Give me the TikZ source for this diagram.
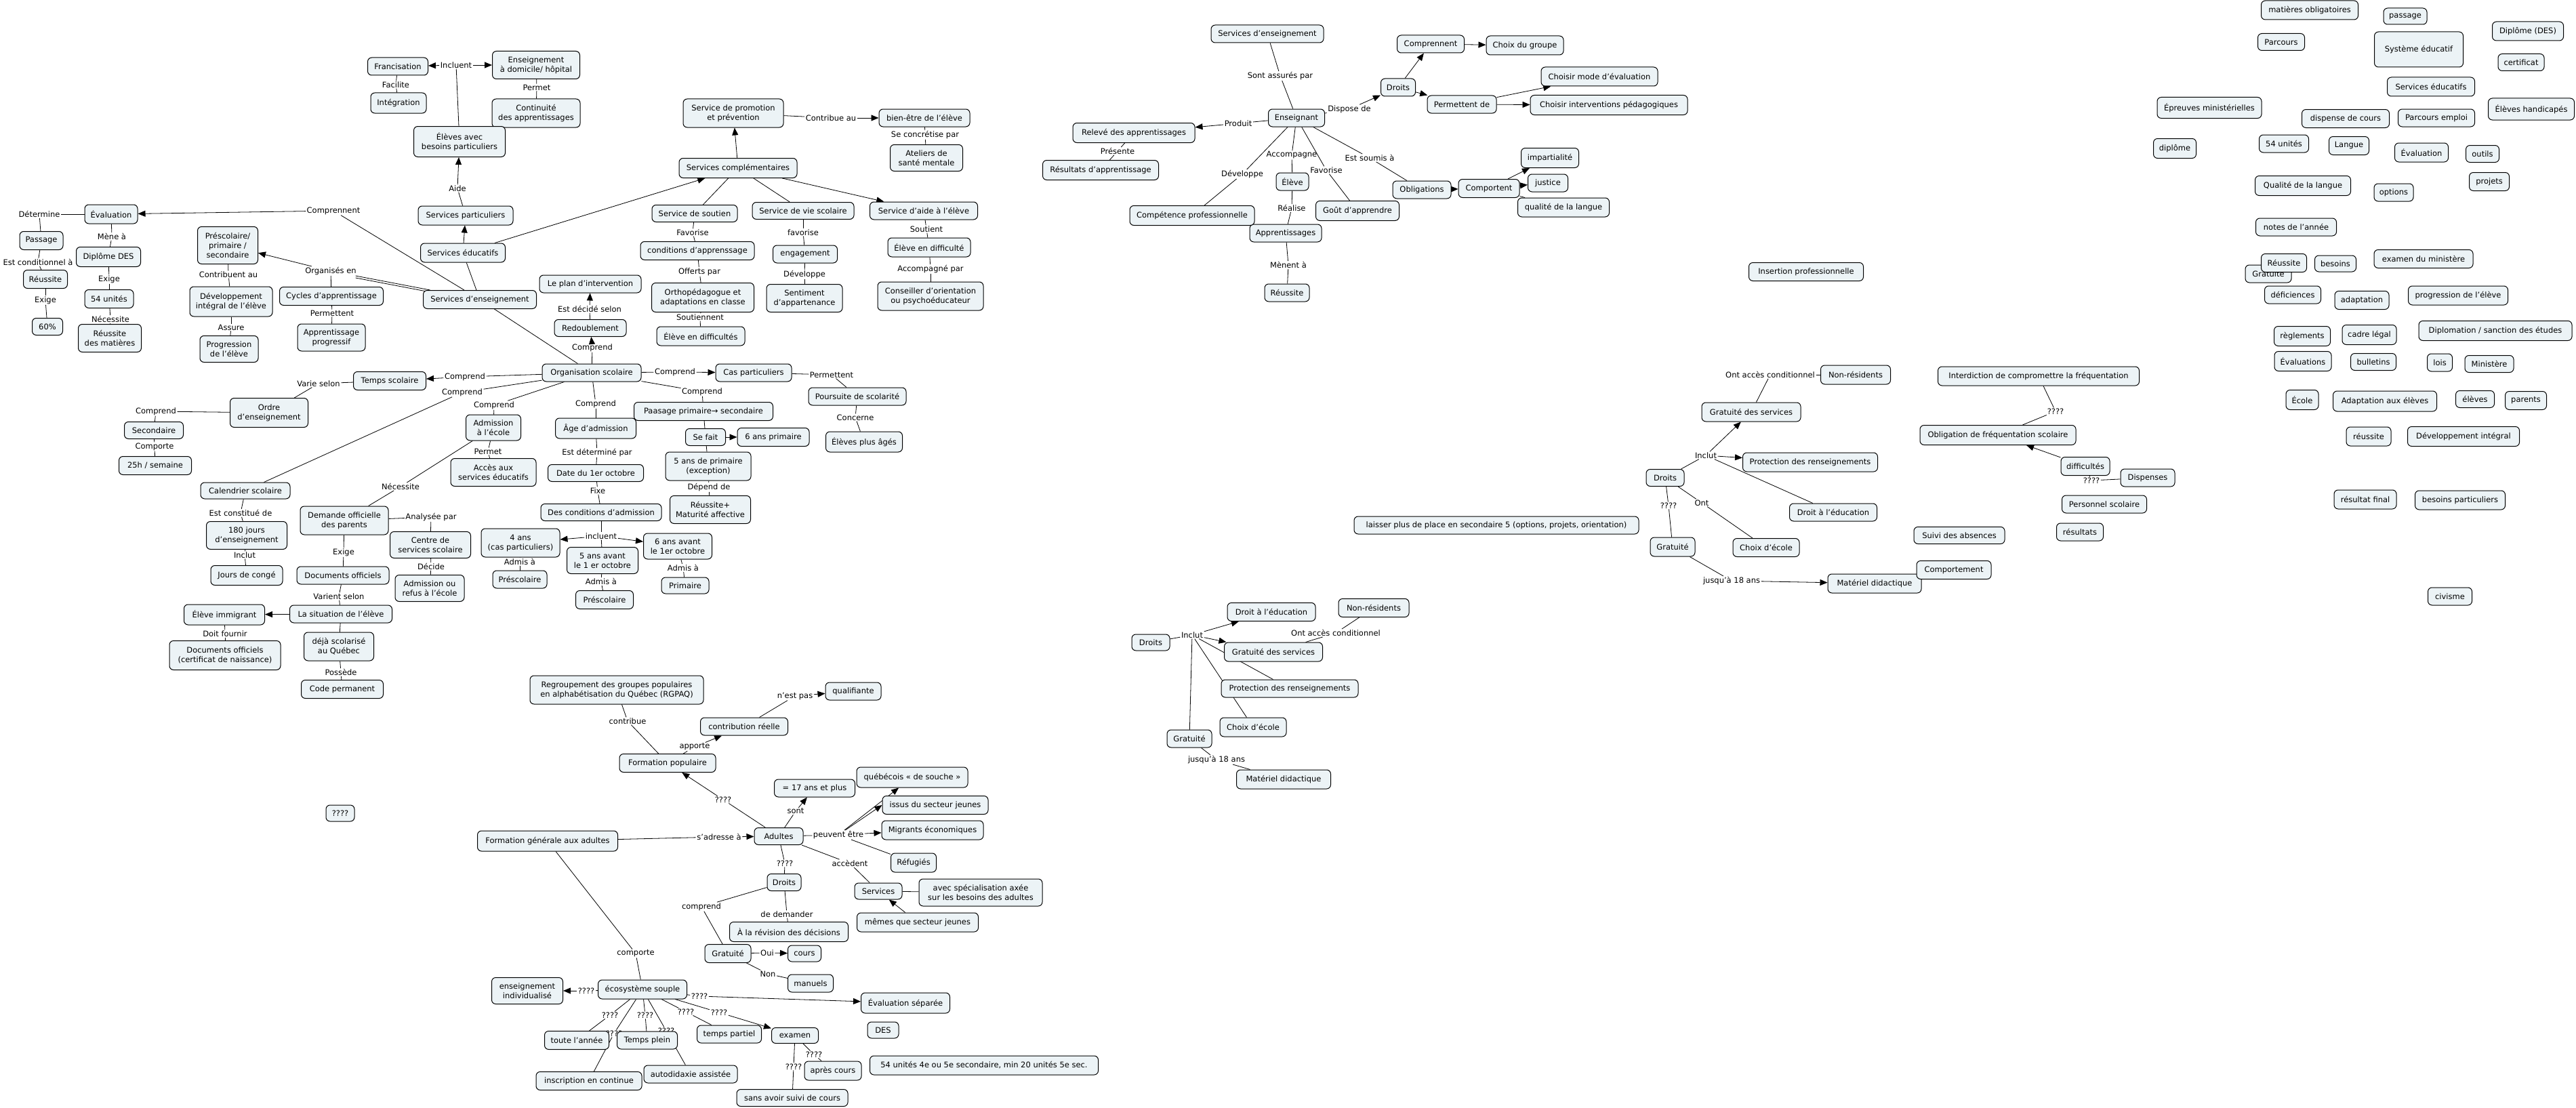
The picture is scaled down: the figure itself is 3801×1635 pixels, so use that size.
\documentclass[tikz,border=0pt]{standalone}
\usepackage{fontspec}
\setmainfont{DejaVu Sans}
\usetikzlibrary{arrows.meta}
\pgfdeclarelayer{bg}
\pgfsetlayers{bg,main}
\definecolor{cfill}{RGB}{236,243,246}
\newcommand{\fsz}{\fontsize{11.5}{14}\selectfont}
\tikzset{
 cpt/.style={draw=black, line width=1pt, rounded corners=6pt, fill=cfill, align=center, font=\fsz, inner xsep=4pt, inner ysep=2pt, text=black},
 lbl/.style={font=\fsz, inner xsep=1.5pt, inner ysep=1pt, text=black, align=center},
 ln/.style={draw=black, line width=0.8pt},
 ar/.style={ln, -{Triangle[length=11pt,width=9pt]}},
}
\newcommand{\mkC}[6]{\node[cpt,minimum width=#4,minimum height=#5] (#1) at (#2,#3) {#6};}
\newcommand{\mkL}[4]{\node[lbl] (#1) at (#2,#3) {#4};}
\newcommand{\eL}[2]{\draw[ln] (#1) -- (#2);}
\newcommand{\eA}[2]{\draw[ar] (#1) -- (#2);}
\begin{document}
\begin{tikzpicture}[x=1pt,y=-1pt]
\useasboundingbox (0,0) rectangle (3801,1635);
\begin{pgfonlayer}{bg}\fill[white] (0,0) rectangle (3801,1635);\end{pgfonlayer}

% ================= left cluster =================
\mkC{fran}{587}{98}{89}{26}{Francisation}
\mkC{integ}{588}{152}{82}{30}{Intégration}
\mkC{ensdom}{791}{96}{129}{41}{Enseignement\\à domicile/ hôpital}
\mkC{contin}{791}{167}{130}{42}{Continuité\\des apprentissages}
\mkC{ebp}{678}{209}{135}{45}{Élèves avec\\besoins particuliers}
\mkC{spart}{687}{318}{140}{28}{Services particuliers}
\mkC{seduc}{683}{373}{125}{28}{Services éducatifs}
\mkC{senseig}{708}{442}{167}{27}{Services d’enseignement}
\mkC{eval}{164}{316}{78}{28}{Évaluation}
\mkC{passage}{61}{355}{64}{27}{Passage}
\mkC{reuss1}{67}{412}{65}{27}{Réussite}
\mkC{p60}{70}{482}{45}{25}{60\%}
\mkC{dipdes}{160}{379}{95}{29}{Diplôme DES}
\mkC{u54}{161}{441}{72}{27}{54 unités}
\mkC{reussmat}{162}{499}{93}{41}{Réussite\\des matières}
\mkC{presc}{336}{362}{89}{55}{Préscolaire/\\primaire /\\secondaire}
\mkC{devint}{341}{445}{122}{44}{Développement\\intégral de l'élève}
\mkC{progr}{338}{515}{86}{39}{Progression\\de l'élève}
\mkC{cycles}{489}{437}{153}{27}{Cycles d'apprentissage}
\mkC{apprprog}{489}{498}{100}{40}{Apprentissage\\progressif}

\mkL{Lincl}{673}{96}{Incluent}
\mkL{Lfac}{584}{125}{Facilite}
\mkL{Lperm1}{792}{129}{Permet}
\mkL{Laide}{675}{278}{Aide}
\mkL{Lcompnt}{492}{311}{Comprennent}
\mkL{Ldet}{58}{316}{Détermine}
\mkL{Lcond}{56}{387}{Est conditionnel à}
\mkL{Lexige1}{67}{443}{Exige}
\mkL{Lmene}{165}{349}{Mène à}
\mkL{Lexige2}{161}{412}{Exige}
\mkL{Lnec1}{163}{471}{Nécessite}
\mkL{Lcontr}{337}{405}{Contribuent au}
\mkL{Lassure}{341}{483}{Assure}
\mkL{Lorg}{488}{400}{Organisés en}
\mkL{Lperm2}{490}{462}{Permettent}

% services complementaires
\mkC{scomp}{1089}{248}{174}{29}{Services complémentaires}
\mkC{sprom}{1082}{167}{148}{42}{Service de promotion\\et prévention}
\mkC{bienetre}{1364}{174}{134}{26}{bien-être de l'élève}
\mkC{atel}{1367}{233}{107}{39}{Ateliers de\\santé mentale}
\mkC{ssout}{1025}{315}{126}{25}{Service de soutien}
\mkC{condapp}{1029}{370}{168}{27}{conditions d'apprenssage}
\mkC{ortho}{1037}{439}{151}{43}{Orthopédagogue et\\adaptations en classe}
\mkC{eldiffs}{1034}{496}{130}{28}{Élève en difficultés}
\mkC{svie}{1185}{311}{150}{25}{Service de vie scolaire}
\mkC{engag}{1188}{375}{95}{26}{engagement}
\mkC{sentim}{1187}{440}{112}{41}{Sentiment\\d'appartenance}
\mkC{saide}{1363}{311}{159}{26}{Service d'aide à l'élève}
\mkC{eldiff}{1371}{365}{122}{28}{Élève en difficulté}
\mkC{conseil}{1373}{437}{156}{42}{Conseiller d'orientation\\ou psychoéducateur}

\mkL{Lcontrib}{1226}{174}{Contribue au}
\mkL{Lconcr}{1365}{199}{Se concrétise par}
\mkL{Lfavor1}{1022}{343}{Favorise}
\mkL{Loffert}{1032}{401}{Offerts par}
\mkL{Lsoutn}{1033}{468}{Soutiennent}
\mkL{Lfavor2}{1185}{343}{favorise}
\mkL{Ldevel}{1187}{405}{Développe}
\mkL{Lsoutient}{1367}{338}{Soutient}
\mkL{Laccomp}{1373}{397}{Accompagné par}

% organisation scolaire
\mkC{orgsc}{873}{550}{146}{26}{Organisation scolaire}
\mkC{planint}{871}{419}{150}{26}{Le plan d'intervention}
\mkC{redoubl}{871}{484}{106}{25}{Redoublement}
\mkC{caspart}{1112}{550}{112}{26}{Cas particuliers}
\mkC{poursuite}{1265}{585}{144}{26}{Poursuite de scolarité}
\mkC{agees}{1275}{652}{113}{30}{Élèves plus âgés}
\mkC{paasage}{1038}{607}{205}{27}{Paasage primaire→ secondaire}
\mkC{sefait}{1041}{645}{59}{25}{Se fait}
\mkC{ans6p}{1141}{645}{106}{27}{6 ans primaire}
\mkC{ans5p}{1045}{688}{126}{42}{5 ans de primaire\\(exception)}
\mkC{maturite}{1048}{752}{119}{41}{Réussite+\\Maturité affective}
\mkC{ageadm}{879}{632}{119}{30}{Âge d'admission}
\mkC{date1oct}{879}{698}{141}{25}{Date du 1er octobre}
\mkC{condadm}{887}{756}{178}{25}{Des conditions d'admission}
\mkC{ans4}{768}{801}{116}{42}{4 ans\\(cas particuliers)}
\mkC{presc1}{767}{855}{80}{26}{Préscolaire}
\mkC{ans5av}{889}{827}{105}{39}{5 ans avant\\le 1 er octobre}
\mkC{presc2}{892}{885}{85}{27}{Préscolaire}
\mkC{ans6av}{1000}{806}{101}{38}{6 ans avant\\le 1er octobre}
\mkC{primaire}{1011}{864}{70}{24}{Primaire}
\mkC{temps}{575}{562}{107}{27}{Temps scolaire}
\mkC{ordre}{397}{609}{115}{43}{Ordre\\d'enseignement}
\mkC{second}{227}{635}{87}{25}{Secondaire}
\mkC{h25}{229}{687}{107}{27}{25h / semaine}
\mkC{calend}{362}{724}{132}{24}{Calendrier scolaire}
\mkC{j180}{364}{790}{119}{41}{180 jours\\d'enseignement}
\mkC{conge}{364}{849}{106}{29}{Jours de congé}
\mkC{admecole}{728}{631}{81}{38}{Admission\\à l'école}
\mkC{acces}{728}{697}{126}{41}{Accès aux\\services éducatifs}
\mkC{demande}{508}{768}{130}{42}{Demande officielle\\des parents}
\mkC{centre}{635}{804}{119}{39}{Centre de\\services scolaire}
\mkC{admref}{634}{868}{102}{39}{Admission ou\\refus à l'école}
\mkC{docoff}{506}{849}{136}{26}{Documents officiels}
\mkC{situation}{503}{906}{151}{26}{La situation de l'élève}
\mkC{immig}{331}{907}{119}{30}{Élève immigrant}
\mkC{docnais}{332}{967}{164}{43}{Documents officiels\\(certificat de naissance)}
\mkC{deja}{500}{954}{103}{42}{déjà scolarisé\\au Québec}
\mkC{codeperm}{505}{1017}{121}{27}{Code permanent}

\mkL{Lcompr}{874}{513}{Comprend}
\mkL{Ldecide}{870}{456}{Est décidé selon}
\mkL{Lcompc}{996}{549}{Comprend}
\mkL{Lpermt}{1227}{553}{Permettent}
\mkL{Lconcerne}{1262}{616}{Concerne}
\mkL{Lcompp}{1036}{578}{Comprend}
\mkL{Ldepend}{1046}{719}{Dépend de}
\mkL{Lcompa}{879}{596}{Comprend}
\mkL{Ldeterm}{881}{668}{Est déterminé par}
\mkL{Lfixe}{882}{724}{Fixe}
\mkL{Lincluent}{887}{791}{incluent}
\mkL{Ladmis1}{767}{829}{Admis à}
\mkL{Ladmis2}{887}{858}{Admis à}
\mkL{Ladmis3}{1008}{838}{Admis à}
\mkL{Lcompt}{686}{556}{Comprend}
\mkL{Lvarie}{470}{566}{Varie selon}
\mkL{Lcompo}{230}{607}{Comprend}
\mkL{Lcomporte}{228}{659}{Comporte}
\mkL{Lcompcal}{682}{579}{Comprend}
\mkL{Lconst}{355}{757}{Est constitué de}
\mkL{Linclut1}{361}{819}{Inclut}
\mkL{Lcompadm}{729}{598}{Comprend}
\mkL{Lpermet2}{720}{666}{Permet}
\mkL{Lnec2}{591}{718}{Nécessite}
\mkL{Lanal}{636}{763}{Analysée par}
\mkL{Ldecide2}{636}{836}{Décide}
\mkL{Lexige3}{507}{815}{Exige}
\mkL{Lvarient}{500}{880}{Varient selon}
\mkL{Ldoit}{332}{935}{Doit fournir}
\mkL{Lpossede}{503}{992}{Possède}

% ================= adults cluster =================
\mkL{Lq7}{906}{1525}{????}
\mkL{Lq8}{983}{1521}{????}
\mkC{rgpaq}{910}{1018}{256}{42}{Regroupement des groupes populaires\\en alphabétisation du Québec (RGPAQ)}
\mkC{fpop}{985}{1126}{142}{27}{Formation populaire}
\mkC{contrib}{1098}{1072}{129}{26}{contribution réelle}
\mkC{qualif}{1259}{1020}{82}{26}{qualifiante}
\mkC{adultes}{1149}{1234}{72}{25}{Adultes}
\mkC{fga}{808}{1241}{207}{30}{Formation générale aux adultes}
\mkC{ans17}{1202}{1163}{119}{26}{= 17 ans et plus}
\mkC{quebec}{1346}{1147}{164}{30}{québécois « de souche »}
\mkC{issus}{1380}{1188}{156}{27}{issus du secteur jeunes}
\mkC{migr}{1376}{1225}{150}{28}{Migrants économiques}
\mkC{refug}{1348}{1273}{67}{28}{Réfugiés}
\mkC{services}{1296}{1315}{70}{24}{Services}
\mkC{avecspec}{1447}{1317}{182}{40}{avec spécialisation axée\\sur les besoins des adultes}
\mkC{memes}{1354}{1361}{179}{28}{mêmes que secteur jeunes}
\mkC{droitsA}{1157}{1302}{50}{25}{Droits}
\mkC{revision}{1164}{1375}{175}{29}{À la révision des décisions}
\mkC{gratA}{1074}{1407}{68}{27}{Gratuité}
\mkC{cours}{1187}{1407}{49}{24}{cours}
\mkC{manuels}{1196}{1451}{67}{26}{manuels}
\mkC{ecosys}{948}{1460}{131}{28}{écosystème souple}
\mkC{ensind}{778}{1462}{105}{39}{enseignement\\individualisé}
\mkC{evalsep}{1336}{1480}{131}{30}{Évaluation séparée}
\mkC{toute}{851}{1535}{95}{27}{toute l’année}
\mkC{tplein}{955}{1535}{89}{26}{Temps plein}
\mkC{inscr}{869}{1595}{156}{27}{inscription en continue}
\mkC{autod}{1019}{1585}{138}{26}{autodidaxie assistée}
\mkC{tpart}{1076}{1526}{95}{26}{temps partiel}
\mkC{examen}{1173}{1528}{69}{23}{examen}
\mkC{apres}{1229}{1580}{84}{28}{après cours}
\mkC{sansavoir}{1169}{1620}{164}{25}{sans avoir suivi de cours}
\mkC{des}{1303}{1520}{46}{24}{DES}
\mkC{u54b}{1452}{1572}{337}{28}{54 unités 4e ou 5e secondaire, min 20 unités 5e sec.}
\mkC{qq}{502}{1200}{42}{24}{????}

\mkL{Lcontribue}{926}{1064}{contribue}
\mkL{Lapporte}{1025}{1102}{apporte}
\mkL{Lnestpas}{1173}{1027}{n'est pas}
\mkL{Lq1}{1067}{1180}{????}
\mkL{Lsadr}{1061}{1235}{s'adresse à}
\mkL{Lsont}{1174}{1197}{sont}
\mkL{Lpeuvent}{1237}{1232}{peuvent être}
\mkL{Laccedent}{1254}{1274}{accèdent}
\mkL{Lq2}{1158}{1274}{????}
\mkL{Lcomprend}{1035}{1338}{comprend}
\mkL{Ldemander}{1161}{1349}{de demander}
\mkL{Loui}{1132}{1406}{Oui}
\mkL{Lnon}{1133}{1437}{Non}
\mkL{Lcomporte2}{938}{1407}{comporte}
\mkL{Lq3}{865}{1462}{????}
\mkL{Lq4}{1032}{1470}{????}
\mkL{Lq5}{900}{1498}{????}
\mkL{Lq6}{952}{1498}{????}
\mkL{Lq9}{1012}{1493}{????}
\mkL{Lq10}{1061}{1494}{????}
\mkL{Lq11}{1201}{1556}{????}
\mkL{Lq12}{1171}{1574}{????}

% ================= Enseignant cluster =================
\mkC{sens2}{1870}{50}{166}{26}{Services d’enseignement}
\mkC{enseignant}{1913}{174}{83}{26}{Enseignant}
\mkC{releve}{1673}{196}{180}{29}{Relevé des apprentissages}
\mkC{resultats}{1624}{251}{171}{29}{Résultats d'apprentissage}
\mkC{droitsE}{2063}{129}{51}{26}{Droits}
\mkC{comprennentN}{2111}{65}{99}{26}{Comprennent}
\mkC{choixgroupe}{2250}{67}{114}{28}{Choix du groupe}
\mkC{permettentN}{2157}{154}{102}{26}{Permettent de}
\mkC{choixmode}{2360}{113}{172}{28}{Choisir mode d'évaluation}
\mkC{choixinterv}{2374}{155}{232}{29}{Choisir interventions pédagogiques}
\mkC{oblig}{2098}{280}{86}{26}{Obligations}
\mkC{comportent}{2197}{278}{90}{27}{Comportent}
\mkC{impart}{2287}{233}{85}{29}{impartialité}
\mkC{justice}{2284}{270}{59}{26}{justice}
\mkC{qualang}{2307}{306}{135}{28}{qualité de la langue}
\mkC{eleve}{1907}{268}{48}{26}{Élève}
\mkC{apprs}{1897}{344}{106}{26}{Apprentissages}
\mkC{reussE}{1899}{432}{66}{26}{Réussite}
\mkC{compet}{1759}{318}{184}{29}{Compétence professionnelle}
\mkC{gout}{2003}{311}{123}{29}{Goût d'apprendre}

\mkL{Lassur}{1889}{112}{Sont assurés par}
\mkL{Lproduit}{1827}{182}{Produit}
\mkL{Lpresente}{1649}{223}{Présente}
\mkL{Ldispose}{1991}{161}{Dispose de}
\mkL{Lsoumis}{2021}{233}{Est soumis à}
\mkL{Laccompagne}{1906}{229}{Accompagne}
\mkL{Lrealise}{1906}{307}{Réalise}
\mkL{Lmenent}{1901}{391}{Mènent à}
\mkL{Ldevelop}{1833}{257}{Développe}
\mkL{Lfavorise3}{1957}{251}{Favorise}

% ================= Droits clusters =================
\mkC{gratserv1}{2584}{608}{146}{28}{Gratuité des services}
\mkC{droitsM}{2457}{705}{56}{25}{Droits}
\mkC{protec1}{2671}{682}{199}{28}{Protection des renseignements}
\mkC{droitedu1}{2705}{756}{129}{26}{Droit à l'éducation}
\mkC{choixec1}{2606}{808}{98}{27}{Choix d'école}
\mkC{gratM}{2468}{807}{66}{28}{Gratuité}
\mkC{materiel1}{2766}{861}{138}{28}{Matériel didactique}
\mkC{nonres1}{2738}{553}{103}{28}{Non-résidents}
\mkL{Linclut2}{2517}{672}{Inclut}
\mkL{Lont}{2511}{742}{Ont}
\mkL{Lq14}{2462}{746}{????}
\mkL{Ljusq1}{2555}{857}{jusqu'à 18 ans}
\mkL{Lonacc1}{2612}{553}{Ont accès conditionnel}

\mkC{interd}{3008}{555}{297}{28}{Interdiction de compromettre la fréquentation}
\mkC{obligf}{2948}{642}{230}{29}{Obligation de fréquentation scolaire}
\mkC{diffic}{3077}{688}{72}{27}{difficultés}
\mkC{dispenses}{3169}{705}{80}{26}{Dispenses}
\mkC{persco}{3105}{744}{125}{26}{Personnel scolaire}
\mkC{resultsR}{3069}{785}{69}{26}{résultats}
\mkC{suivi}{2891}{790}{134}{25}{Suivi des absences}
\mkC{comportement}{2883}{841}{110}{27}{Comportement}
\mkL{Lq15}{3033}{607}{????}
\mkL{Lq16}{3086}{709}{????}
\mkC{laisser}{2208}{775}{420}{26}{laisser plus de place en secondaire 5 (options, projets, orientation)}
\mkC{insertion}{2665}{401}{169}{27}{Insertion professionnelle}

\mkC{droitsL}{1698}{948}{56}{24}{Droits}
\mkC{droitedu2}{1876}{903}{130}{27}{Droit à l'éducation}
\mkC{gratserv2}{1879}{962}{145}{28}{Gratuité des services}
\mkC{nonres2}{2027}{897}{104}{27}{Non-résidents}
\mkC{protec2}{1903}{1016}{202}{26}{Protection des renseignements}
\mkC{choixec2}{1849}{1073}{98}{28}{Choix d'école}
\mkC{gratL}{1755}{1090}{66}{26}{Gratuité}
\mkC{materiel2}{1894}{1150}{139}{28}{Matériel didactique}
\mkL{Linclut3}{1759}{937}{Inclut}
\mkL{Lonacc2}{1971}{934}{Ont accès conditionnel}
\mkL{Ljusq2}{1795}{1121}{jusqu'à 18 ans}

% ================= far right =================
\mkC{matob}{3408}{15}{143}{28}{matières obligatoires}
\mkC{passage2}{3549}{24}{64}{24}{passage}
\mkC{dipdes2}{3730}{46}{105}{28}{Diplôme (DES)}
\mkC{parcours}{3366}{62}{69}{25}{Parcours}
\mkC{syseduc}{3569}{73}{131}{52}{Système éducatif}
\mkC{certif}{3720}{92}{68}{25}{certificat}
\mkC{seduc2}{3587}{128}{129}{28}{Services éducatifs}
\mkC{epreuves}{3260}{159}{154}{31}{Épreuves ministérielles}
\mkC{dispcours}{3461}{175}{129}{27}{dispense de cours}
\mkC{parcemploi}{3595}{174}{113}{26}{Parcours emploi}
\mkC{handic}{3735}{161}{127}{32}{Élèves handicapés}
\mkC{diplome}{3209}{219}{63}{29}{diplôme}
\mkC{u54c}{3370}{212}{73}{26}{54 unités}
\mkC{langue}{3466}{215}{59}{27}{Langue}
\mkC{evalR}{3573}{225}{79}{28}{Évaluation}
\mkC{outils}{3663}{227}{49}{25}{outils}
\mkC{qualangue}{3398}{274}{141}{29}{Qualité de la langue}
\mkC{options}{3532}{284}{58}{26}{options}
\mkC{projets}{3673}{268}{59}{27}{projets}
\mkC{notes}{3388}{335}{119}{26}{notes de l’année}
\mkC{gratR}{3347}{404}{68}{26}{Gratuité}
\mkC{reussR}{3370}{388}{67}{27}{Réussite}
\mkC{besoins}{3446}{389}{61}{24}{besoins}
\mkC{examin}{3576}{382}{146}{27}{examen du ministère}
\mkC{defic}{3383}{435}{83}{26}{déficiences}
\mkC{adapt}{3485}{443}{80}{27}{adaptation}
\mkC{progress}{3627}{436}{147}{28}{progression de l’élève}
\mkC{reglem}{3397}{496}{83}{29}{règlements}
\mkC{cadre}{3496}{494}{80}{29}{cadre légal}
\mkC{diplomation}{3682}{488}{226}{29}{Diplomation / sanction des études}
\mkC{evals}{3398}{533}{84}{29}{Évaluations}
\mkC{bulletins}{3502}{534}{67}{25}{bulletins}
\mkC{lois}{3600}{535}{37}{26}{lois}
\mkC{ministere}{3673}{537}{72}{25}{Ministère}
\mkC{ecole}{3397}{590}{48}{29}{École}
\mkC{adapteleves}{3519}{592}{153}{30}{Adaptation aux élèves}
\mkC{eleves}{3652}{589}{57}{25}{élèves}
\mkC{parents}{3727}{591}{61}{27}{parents}
\mkC{reussite2}{3495}{644}{66}{28}{réussite}
\mkC{devint2}{3635}{644}{165}{29}{Développement intégral}
\mkC{resfinal}{3490}{737}{92}{28}{résultat final}
\mkC{besoinspart}{3630}{738}{133}{28}{besoins particuliers}
\mkC{civisme}{3615}{880}{65}{26}{civisme}

% ================= connectors =================
\begin{pgfonlayer}{bg}
% left
\eL{ebp}{Lincl} \eA{Lincl}{fran} \eA{Lincl}{ensdom}
\eL{fran}{Lfac} \eL{Lfac}{integ}
\eL{ensdom}{Lperm1} \eL{Lperm1}{contin}
\eA{seduc}{spart}
\eL{spart}{Laide} \eA{Laide}{ebp}
\eL{senseig}{seduc}
\eL{senseig}{Lcompnt} \eA{Lcompnt}{eval}
\eL{eval}{Ldet} \eL{Ldet}{passage}
\eL{passage}{Lcond} \eL{Lcond}{reuss1} \eL{reuss1}{Lexige1} \eL{Lexige1}{p60}
\eL{eval}{Lmene} \eL{Lmene}{dipdes} \eL{dipdes}{Lexige2} \eL{Lexige2}{u54} \eL{u54}{Lnec1} \eL{Lnec1}{reussmat}
\eL{senseig}{Lorg}
\draw[ln,transform canvas={shift={(0,3)}}] (senseig) -- (Lorg);
\eA{Lorg}{presc} \eL{Lorg}{cycles}
\eL{presc}{Lcontr} \eL{Lcontr}{devint} \eL{devint}{Lassure} \eL{Lassure}{progr}
\eL{cycles}{Lperm2} \eL{Lperm2}{apprprog}
% complementaires
\eA{seduc}{scomp} \eA{scomp}{sprom}
\eL{sprom}{Lcontrib} \eA{Lcontrib}{bienetre}
\eL{bienetre}{Lconcr} \eL{Lconcr}{atel}
\eL{scomp}{ssout} \eL{scomp}{svie} \eA{scomp}{saide}
\eL{ssout}{Lfavor1} \eL{Lfavor1}{condapp} \eL{condapp}{Loffert} \eL{Loffert}{ortho} \eL{ortho}{Lsoutn} \eL{Lsoutn}{eldiffs}
\eL{svie}{Lfavor2} \eL{Lfavor2}{engag} \eL{engag}{Ldevel} \eL{Ldevel}{sentim}
\eL{saide}{Lsoutient} \eL{Lsoutient}{eldiff} \eL{eldiff}{Laccomp} \eL{Laccomp}{conseil}
% organisation
\eL{senseig}{orgsc}
\eL{orgsc}{Lcompr} \eA{Lcompr}{redoubl}
\eL{redoubl}{Ldecide} \eA{Ldecide}{planint}
\eL{orgsc}{Lcompc} \eA{Lcompc}{caspart}
\eL{caspart}{Lpermt} \eL{Lpermt}{poursuite} \eL{poursuite}{Lconcerne} \eL{Lconcerne}{agees}
\eL{orgsc}{Lcompp} \eL{Lcompp}{paasage}
\eL{paasage}{sefait} \eA{sefait}{ans6p} \eL{sefait}{ans5p}
\eL{ans5p}{Ldepend} \eL{Ldepend}{maturite}
\eL{orgsc}{Lcompa} \eL{Lcompa}{ageadm}
\eL{ageadm}{Ldeterm} \eL{Ldeterm}{date1oct} \eL{date1oct}{Lfixe} \eL{Lfixe}{condadm}
\eL{condadm}{Lincluent} \eA{Lincluent}{ans4} \eA{Lincluent}{ans6av} \eL{Lincluent}{ans5av}
\eL{ans4}{Ladmis1} \eL{Ladmis1}{presc1}
\eL{ans5av}{Ladmis2} \eL{Ladmis2}{presc2}
\eL{ans6av}{Ladmis3} \eL{Ladmis3}{primaire}
\eL{orgsc}{Lcompt} \eA{Lcompt}{temps}
\eL{temps}{Lvarie} \eL{Lvarie}{ordre}
\eL{ordre}{Lcompo} \eL{Lcompo}{second} \eL{second}{Lcomporte} \eL{Lcomporte}{h25}
\eL{orgsc}{Lcompcal} \eL{Lcompcal}{calend}
\eL{calend}{Lconst} \eL{Lconst}{j180} \eL{j180}{Linclut1} \eL{Linclut1}{conge}
\eL{orgsc}{Lcompadm} \eL{Lcompadm}{admecole}
\eL{admecole}{Lpermet2} \eL{Lpermet2}{acces}
\eL{admecole}{Lnec2} \eL{Lnec2}{demande}
\eL{demande}{Lanal} \eL{Lanal}{centre} \eL{centre}{Ldecide2} \eL{Ldecide2}{admref}
\eL{demande}{Lexige3} \eL{Lexige3}{docoff} \eL{docoff}{Lvarient} \eL{Lvarient}{situation}
\eA{situation}{immig} \eL{immig}{Ldoit} \eL{Ldoit}{docnais}
\eL{situation}{deja} \eL{deja}{Lpossede} \eL{Lpossede}{codeperm}
% adults
\eL{rgpaq}{Lcontribue} \eL{Lcontribue}{fpop}
\eL{fpop}{Lapporte} \eA{Lapporte}{contrib}
\eL{contrib}{Lnestpas} \eA{Lnestpas}{qualif}
\eL{adultes}{Lq1} \eA{Lq1}{fpop}
\eL{fga}{Lsadr} \eA{Lsadr}{adultes}
\eL{adultes}{Lsont} \eA{Lsont}{ans17}
\eL{adultes}{Lpeuvent} \eA{Lpeuvent}{quebec} \eA{Lpeuvent}{issus.west} \eA{Lpeuvent}{migr} \eL{Lpeuvent}{refug}
\eL{adultes}{Laccedent} \eL{Laccedent}{services}
\eL{services}{avecspec} \eA{memes}{services}
\eL{adultes}{Lq2} \eL{Lq2}{droitsA}
\eL{droitsA}{Lcomprend} \eL{Lcomprend}{gratA}
\eL{droitsA}{Ldemander} \eL{Ldemander}{revision}
\eL{gratA}{Loui} \eA{Loui}{cours}
\eL{gratA}{Lnon} \eL{Lnon}{manuels}
\eL{fga}{Lcomporte2} \eL{Lcomporte2}{ecosys}
\eL{ecosys}{Lq3} \eA{Lq3}{ensind}
\eL{ecosys}{Lq4} \eA{Lq4}{evalsep}
\eL{ecosys}{Lq5} \eL{Lq5}{toute}
\eL{ecosys}{Lq6} \eL{Lq6}{tplein}
\eL{ecosys}{Lq7} \eL{Lq7}{inscr}
\eL{ecosys}{Lq8} \eL{Lq8}{autod}
\eL{ecosys}{Lq9} \eL{Lq9}{tpart}
\eL{ecosys}{Lq10} \eA{Lq10}{examen}
\eL{examen}{Lq11} \eL{Lq11}{apres}
\eL{examen}{Lq12} \eL{Lq12}{sansavoir}
% enseignant
\eL{sens2}{Lassur} \eL{Lassur}{enseignant}
\eL{enseignant}{Lproduit} \eA{Lproduit}{releve}
\eL{releve}{Lpresente} \eL{Lpresente}{resultats}
\eL{enseignant}{Ldispose} \eA{Ldispose}{droitsE}
\eA{droitsE}{comprennentN} \eA{comprennentN}{choixgroupe}
\eA{droitsE}{permettentN} \eA{permettentN}{choixmode} \eA{permettentN}{choixinterv}
\eL{enseignant}{Lsoumis} \eL{Lsoumis}{oblig}
\eA{oblig}{comportent} \eA{comportent}{impart} \eA{comportent}{justice} \eL{comportent}{qualang}
\eL{enseignant}{Laccompagne} \eL{Laccompagne}{eleve}
\eL{eleve}{Lrealise} \eL{Lrealise}{apprs} \eL{apprs}{Lmenent} \eL{Lmenent}{reussE}
\eL{enseignant}{Ldevelop} \eL{Ldevelop}{compet}
\eL{enseignant}{Lfavorise3} \eL{Lfavorise3}{gout}
% droits upper
\eL{droitsM}{Linclut2} \eA{Linclut2}{gratserv1} \eA{Linclut2}{protec1} \eL{Linclut2}{droitedu1}
\eL{droitsM}{Lont} \eL{Lont}{choixec1}
\eL{droitsM}{Lq14} \eL{Lq14}{gratM}
\eL{gratM}{Ljusq1} \eA{Ljusq1}{materiel1}
\eL{gratserv1}{Lonacc1} \eL{Lonacc1}{nonres1}
\eL{interd}{Lq15} \eL{Lq15}{obligf}
\eA{diffic}{obligf}
\eL{diffic}{Lq16} \eL{Lq16}{dispenses}
% droits lower
\eL{droitsL}{Linclut3} \eA{Linclut3}{droitedu2} \eA{Linclut3}{gratserv2}
\eL{Linclut3}{protec2} \eL{Linclut3}{choixec2} \eL{Linclut3}{gratL}
\eL{gratserv2}{Lonacc2} \eL{Lonacc2}{nonres2}
\eL{gratL}{Ljusq2} \eL{Ljusq2}{materiel2}
\end{pgfonlayer}
\end{tikzpicture}
\end{document}
